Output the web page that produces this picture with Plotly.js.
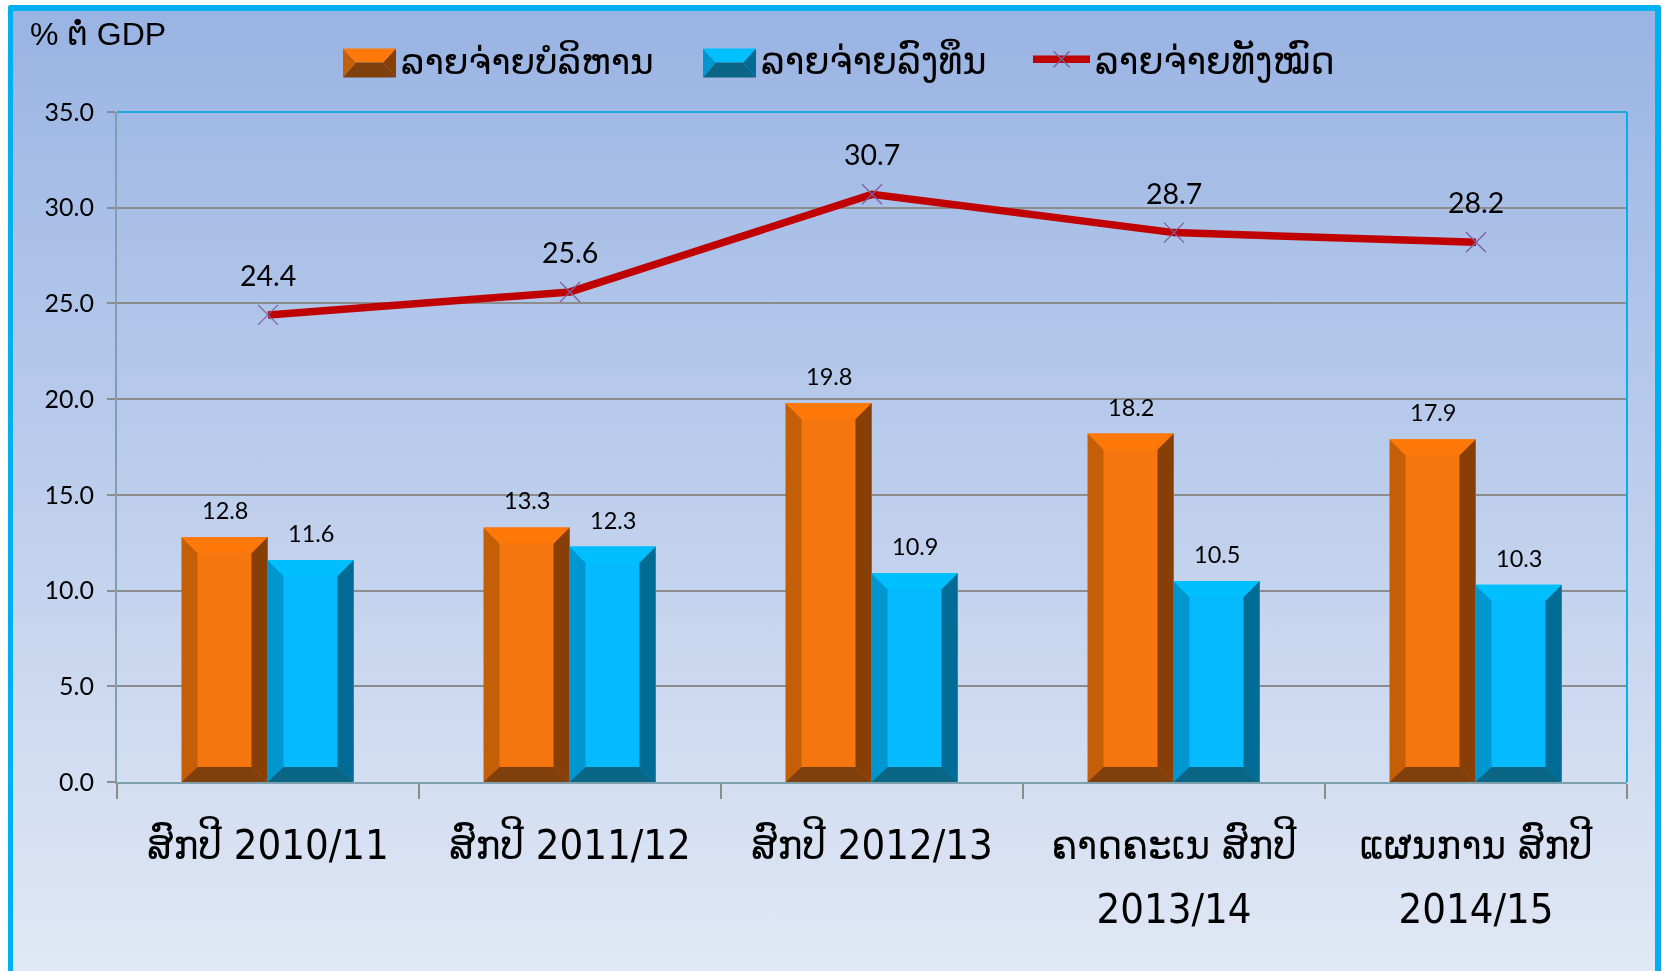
<!DOCTYPE html>
<html><head><meta charset="utf-8">
<script src="https://cdn.plot.ly/plotly-3.0.1.min.js"></script>
<style>
html,body{margin:0;padding:0;background:#fff;overflow:hidden}
#bg{position:fixed;left:8px;top:5px;border-style:solid;border-color:#00b0f0;border-width:6px 6px 0 5px;border-radius:3px 3px 0 0;box-sizing:content-box;height:960px;width:1642px;
background:linear-gradient(180deg,#99b3e3 0%,#a4bce6 15%,#e1e8f5 100%)}
#chart{position:absolute;left:0;top:0;width:1662px;height:971px}
g.legend .legendsymbols path, g.legend2 .legendsymbols path{display:none}
</style></head><body>
<div id="bg"></div><div id="chart"></div>
<script>
const categories=[
 '<span style="font-size:41.5px">ສົກປີ 2010/11</span>',
 '<span style="font-size:41.5px">ສົກປີ 2011/12</span>',
 '<span style="font-size:41.5px">ສົກປີ 2012/13</span>',
 '<span style="font-size:41.5px">ຄາດຄະເນ ສົກປີ</span><br><span style="font-size:41.5px">2013/14</span>',
 '<span style="font-size:41.5px">ແຜນການ ສົກປີ</span><br><span style="font-size:41.5px">2014/15</span>'];
const recurrent=[12.8,13.3,19.8,18.2,17.9];
const capital=[11.6,12.3,10.9,10.5,10.3];
const total=[24.4,25.6,30.7,28.7,28.2];
const nameRecurrent='ລາຍຈ່າຍບໍລິຫານ', nameCapital='ລາຍຈ່າຍລົງທຶນ', nameTotal='ລາຍຈ່າຍທັງໝົດ';
const yTitle='% ຕໍ່ GDP';

const W=1662,H=971,L=117,R=1627,T=111.5,B=782.5;
const pw=R-L,ph=B-T, pxX=pw/5, pxY=ph/35;
const barW=86/pxX, bev=16/pxX, bevY=16/pxY, bevB=15/pxY, nudge=-0.5/pxX;
const px=x=>(x-L)/pw, py=y=>(B-y)/ph;

function face(vals,offset,kind){
  const xs=[],ys=[];
  vals.forEach((v,i)=>{
    const a=i+offset+nudge,b=a+barW;
    let p;
    if(kind==='top')p=[[a,v],[b,v],[b-bev,v-bevY],[a+bev,v-bevY]];
    if(kind==='left')p=[[a,v],[a+bev,v-bevY],[a+bev,bevB],[a,0]];
    if(kind==='right')p=[[b,v],[b-bev,v-bevY],[b-bev,bevB],[b,0]];
    if(kind==='bottom')p=[[a,0],[a+bev,bevB],[b-bev,bevB],[b,0]];
    p.forEach(q=>{xs.push(q[0]);ys.push(q[1]);});
    xs.push(xs[xs.length-p.length]);ys.push(ys[ys.length-p.length]);
    xs.push(null);ys.push(null);
  });
  return {x:xs,y:ys};
}
const orange={front:'#f5760f',top:'#fe7909',left:'#c55f07',right:'#873f06',bottom:'#7f400e'};
const blue={front:'#05baff',top:'#00bfff',left:'#0097d0',right:'#006b94',bottom:'#0b6585'};
const faceTraces=[];
[[recurrent,-barW,orange],[capital,0,blue]].forEach(([vals,off,c])=>{
  ['left','right','top','bottom'].forEach(k=>{
    const f=face(vals,off,k);
    faceTraces.push({type:'scatter',mode:'lines',xaxis:'x2',yaxis:'y',x:f.x,y:f.y,fill:'toself',
      fillcolor:c[k],line:{width:0},hoverinfo:'skip',showlegend:false});
  });
});
const traces=[
 {type:'bar',name:nameRecurrent,x:categories,y:recurrent,marker:{color:orange.front,line:{width:0}},legend:'legend'},
 {type:'bar',name:nameCapital,x:categories,y:capital,marker:{color:blue.front,line:{width:0}},legend:'legend2'},
 {type:'scatter',mode:'lines+markers',name:nameTotal,x:categories,y:total,legend:'legend3',
  line:{color:'#c00000',width:7.5},
  marker:{symbol:'x-thin',size:20,color:'#7d5f9f',line:{color:'#7d5f9f',width:1.3}}},
 ...faceTraces];

function lbl(i,v,off,size,shift){
  return {xref:'x2',yref:'y',x:i+off,y:v,text:v.toFixed(1),showarrow:false,yshift:shift,yanchor:'middle',
    font:{family:'Lato, sans-serif',size:size,color:'#000'}};
}
const annotations=[
 ...recurrent.map((v,i)=>lbl(i,v,-barW/2,23.5,27)),
 ...capital.map((v,i)=>lbl(i,v,barW/2,23.5,27)),
 ...total.map((v,i)=>lbl(i,v,0,28.5,40)),
 {xref:'paper',yref:'paper',x:px(28),y:py(33),xanchor:'left',yanchor:'middle',showarrow:false,text:yTitle,
  font:{family:'Liberation Sans, DejaVu Sans',size:32,color:'#000'}}
];
function swatch(x0,c){
  const x1=x0+53,y0=48,y1=77,d=13,m=14;
  const poly=(pts,col)=>({type:'path',xref:'paper',yref:'paper',layer:'above',line:{width:0},fillcolor:col,
    path:'M'+pts.map(p=>px(p[0])+','+py(p[1])).join('L')+'Z'});
  return [
    poly([[x0,y0],[x0+d,y0+m],[x0,y1]],c.left),
    poly([[x1,y0],[x1-d,y0+m],[x1,y1]],c.right),
    poly([[x0,y0],[x1,y0],[x1-d,y0+m],[x0+d,y0+m]],c.top),
    poly([[x0,y1],[x0+d,y0+m],[x1-d,y0+m],[x1,y1]],c.bottom)];
}
const legendBase=(x,iw,fs)=>({x:px(x),y:py(59),xanchor:'left',yanchor:'middle',orientation:'h',bgcolor:'rgba(0,0,0,0)',borderwidth:0,
  itemwidth:iw,font:{family:'DejaVu Sans',size:fs,color:'#000'},itemclick:false,itemdoubleclick:false});
const layout={
 width:W,height:H,paper_bgcolor:'rgba(0,0,0,0)',plot_bgcolor:'rgba(0,0,0,0)',
 margin:{l:L,r:W-R,t:T,b:H-B,pad:0},
 barmode:'group',bargap:1-172/pxX,bargroupgap:0,hovermode:false,
 legend:legendBase(338,53,36),legend2:legendBase(698,53,36.5),legend3:legendBase(1028,57,36.5),
 xaxis:{type:'category',range:[-0.5,4.5],tickson:'boundaries',ticks:'outside',ticklen:15,tickwidth:2,tickcolor:'#8c8c8c',
   showline:true,linecolor:'#7f9fae',linewidth:2,showgrid:false,automargin:false,
   tickfont:{family:'DejaVu Sans Condensed, DejaVu Sans',size:49,color:'#000'},tickangle:0,ticklabelstandoff:16,fixedrange:true},
 xaxis2:{overlaying:'x',range:[-0.5,4.5],visible:false,fixedrange:true},
 yaxis:{range:[0,35],dtick:5,tick0:0,tickformat:'.1f',ticks:'outside',ticklen:8,tickwidth:2,tickcolor:'#8c8c8c',
   showline:true,linecolor:'#7f9fae',linewidth:2,showgrid:true,gridcolor:'#8c8c8c',gridwidth:2,zeroline:false,
   tickfont:{family:'Lato, sans-serif',size:25,color:'#000'},ticklabelstandoff:8,automargin:false,fixedrange:true},
 shapes:[
  {type:'line',xref:'paper',yref:'paper',x0:0,x1:1,y0:1,y1:1,line:{color:'#1fa8dc',width:2},layer:'above'},
  {type:'line',xref:'paper',yref:'paper',x0:1,x1:1,y0:0,y1:1,line:{color:'#00b0f0',width:2},layer:'above'},
  ...swatch(343,orange),...swatch(703,blue)],
 annotations
};
Plotly.newPlot('chart',traces,layout,{displayModeBar:false});
</script></body></html>
